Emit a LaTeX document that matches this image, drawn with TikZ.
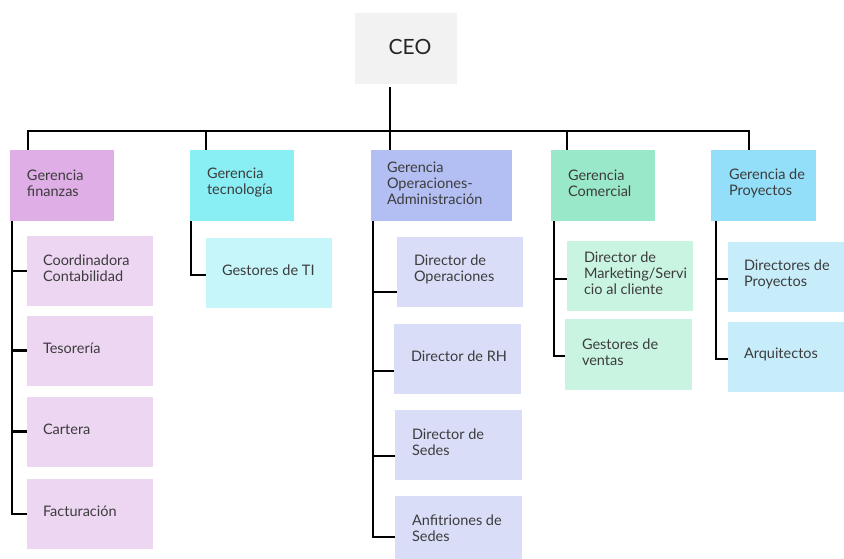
\documentclass[tikz,border=0pt]{standalone}
\usepackage{fontspec}
\setmainfont{Lato}
\usetikzlibrary{calc}
\definecolor{ceoc}{HTML}{F2F2F2}
\definecolor{finA}{HTML}{DFAEE6}
\definecolor{finB}{HTML}{EDD6F2}
\definecolor{tecA}{HTML}{8AEEF5}
\definecolor{tecB}{HTML}{C6F6F9}
\definecolor{opeA}{HTML}{B3BFF3}
\definecolor{opeB}{HTML}{D9DDF8}
\definecolor{comA}{HTML}{99E8C9}
\definecolor{comB}{HTML}{C9F4E1}
\definecolor{proA}{HTML}{93DFF9}
\definecolor{proB}{HTML}{C7EDFB}
\definecolor{txtc}{HTML}{3C3C3C}
\begin{document}
\begin{tikzpicture}[x=1pt,y=-1pt,
  box/.style={rectangle, inner sep=0pt, draw=none},
  lvltwo/.style={box, minimum width=104pt, minimum height=71pt},
  lvlthree/.style={box, minimum width=126pt, minimum height=70pt},
  txt/.style={anchor=west, align=left, inner sep=0pt, text=txtc,
    font=\fontsize{14.5}{16}\selectfont},
  conn/.style={draw=black, line width=2.4pt, line join=miter}]
\clip (0,0) rectangle (844,559);
\fill[white] (0,0) rectangle (844,559);

% CEO
\node[box, fill=ceoc, minimum width=102pt, minimum height=71pt] (ceo) at (406,48.5) {};
\node[inner sep=0pt, text=black!85, font=\fontsize{21}{24}\selectfont] (ceot)
  at ($(ceo.center)+(4,-2)$) {CEO};

% level two
\node[lvltwo, fill=finA] (g1) at (62,185.5) {};
\node[lvltwo, fill=tecA] (g2) at (242,185.5) {};
\node[lvltwo, fill=opeA, minimum width=141pt] (g3) at (441.5,185.5) {};
\node[lvltwo, fill=comA] (g4) at (603,185.5) {};
\node[lvltwo, fill=proA, minimum width=105pt] (g5) at (763.5,185.5) {};

\node[txt] (g1t) at ($(g1.west)+(17,-2.5)$) {Gerencia\\finanzas};
\node[txt] (g2t) at ($(g2.west)+(17,-2.5)$) {Gerencia\\tecnología};
\node[txt] (g3t) at ($(g3.west)+(16,-2.5)$) {Gerencia\\Operaciones-\\Administración};
\node[txt] (g4t) at ($(g4.west)+(17,-2.5)$) {Gerencia\\Comercial};
\node[txt] (g5t) at ($(g5.west)+(18,-2.5)$) {Gerencia de\\Proyectos};

% level three: finanzas
\node[lvlthree, fill=finB] (f1) at (90,271) {};
\node[lvlthree, fill=finB] (f2) at (90,350.5) {};
\node[lvlthree, fill=finB] (f3) at (90,431.5) {};
\node[lvlthree, fill=finB] (f4) at (90,514) {};
\node[txt] (f1t) at ($(f1.west)+(16,-2.5)$) {Coordinadora\\Contabilidad};
\node[txt] (f2t) at ($(f2.west)+(16,-2.5)$) {Tesorería};
\node[txt] (f3t) at ($(f3.west)+(16,-2.5)$) {Cartera};
\node[txt] (f4t) at ($(f4.west)+(16,-2.5)$) {Facturación};

% tecnologia
\node[lvlthree, fill=tecB] (t1) at (269,273) {};
\node[txt] (t1t) at ($(t1.west)+(16,-2.5)$) {Gestores de TI};

% operaciones
\node[lvlthree, fill=opeB] (o1) at (460,272) {};
\node[lvlthree, fill=opeB, minimum width=127pt] (o2) at (457.5,358.5) {};
\node[lvlthree, fill=opeB, minimum width=127pt] (o3) at (458.5,444.5) {};
\node[lvlthree, fill=opeB, minimum width=127pt] (o4) at (458.5,531) {};
\node[txt] (o1t) at ($(o1.west)+(17,-2.5)$) {Director de\\Operaciones};
\node[txt] (o2t) at ($(o2.west)+(17,-2.5)$) {Director de RH};
\node[txt] (o3t) at ($(o3.west)+(17,-2.5)$) {Director de\\Sedes};
\node[txt] (o4t) at ($(o4.west)+(17,-3)$) {Anfitriones de\\Sedes};

% comercial
\node[lvlthree, fill=comB] (m1) at (630,275.5) {};
\node[lvlthree, fill=comB, minimum width=127pt, minimum height=71pt] (m2) at (628.5,354.5) {};
\node[txt] (m1t) at ($(m1.west)+(17,-2.5)$) {Director de\\Marketing/Servi\\cio al cliente};
\node[txt] (m2t) at ($(m2.west)+(17,-2.5)$) {Gestores de\\ventas};

% proyectos
\node[lvlthree, fill=proB, minimum width=120pt] (p1) at (788,276.5) {};
\node[lvlthree, fill=proB, minimum width=120pt] (p2) at (788,357) {};
\node[txt] (p1t) at ($(p1.west)+(16,-2.5)$) {Directores de\\Proyectos};
\node[txt] (p2t) at ($(p2.west)+(16,-2.5)$) {Arquitectos};

% connectors CEO -> level two
\coordinate (bus) at (0,131);
\coordinate (cj) at ($(ceo.south west)+(35,3)$);
\coordinate (d1) at ($(g1.north west)+(18,0)$);
\coordinate (d2) at ($(g2.north west)+(16,0)$);
\coordinate (d3) at ($(g3.north west)+(19,0)$);
\coordinate (d4) at ($(g4.north west)+(16,0)$);
\coordinate (d5) at ($(g5.north west)+(38,0)$);
\foreach \d in {d1,d2,d3,d4,d5}
  \draw[conn] (cj) -- (cj |- bus) -| (\d);

% connectors level two -> level three
\coordinate (fv) at ($(g1.south west)+(2,0)$);
\draw[conn] (fv) |- (f1.west);
\draw[conn] (fv) |- (f2.west);
\draw[conn] (fv) |- (f3.west);
\draw[conn] (fv) |- (f4.west);

\coordinate (tv) at ($(g2.south west)+(1,0)$);
\draw[conn] (tv) |- ($(t1.west)+(0,2)$);

\coordinate (ov) at ($(g3.south west)+(2,0)$);
\draw[conn] (ov) |- ($(o1.west)+(0,20)$);
\draw[conn] (ov) |- ($(o2.west)+(0,12.5)$);
\draw[conn] (ov) |- ($(o3.west)+(0,11.5)$);
\draw[conn] (ov) |- ($(o4.west)+(0,6)$);

\coordinate (mv) at ($(g4.south west)+(3,0)$);
\draw[conn] (mv) |- ($(m1.west)+(0,3.5)$);
\draw[conn] (mv) |- ($(m2.west)+(0,1.5)$);

\coordinate (pv) at ($(g5.south west)+(5,0)$);
\draw[conn] (pv) |- ($(p1.west)+(0,2.5)$);
\draw[conn] (pv) |- ($(p2.west)+(0,2)$);
\end{tikzpicture}
\end{document}
